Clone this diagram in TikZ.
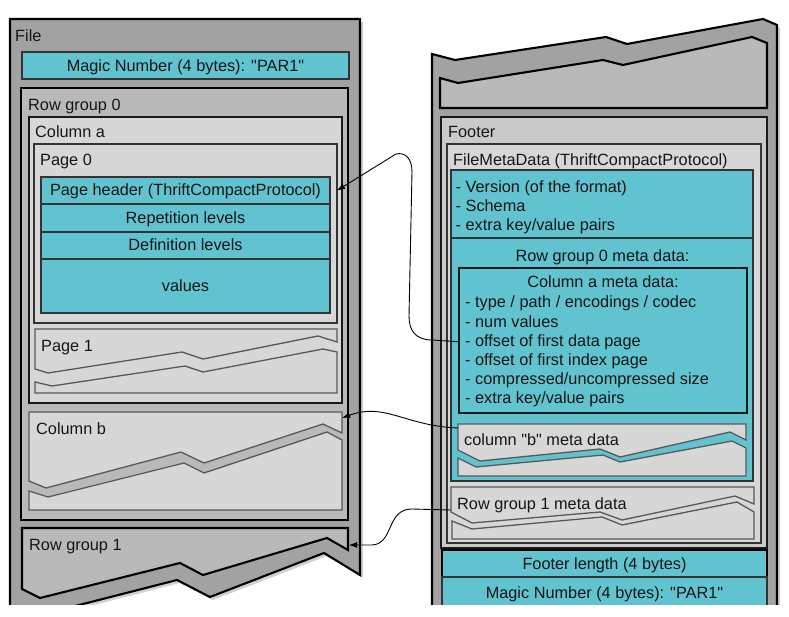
\documentclass[tikz,border=0pt]{standalone}
\usepackage{fontspec}
\setmainfont{Liberation Sans}
\usetikzlibrary{arrows.meta,shadows}
\definecolor{cy}{HTML}{62C3D0}
\definecolor{gA}{HTML}{A2A2A2}
\definecolor{gB}{HTML}{B9B9B9}
\definecolor{gC}{HTML}{D7D7D7}
\definecolor{gF}{HTML}{CACACA}
\definecolor{ink}{HTML}{161616}
\newcommand\qq{\textquotedbl}
\begin{document}
\begin{tikzpicture}[x=1pt,y=-1pt,
  bx/.style={rectangle, inner sep=0pt, outer sep=0pt, anchor=north west},
  heavy/.style={draw=black, line width=2.1pt, line join=miter},
  medium/.style={draw=black!90, line width=1.5pt},
  light/.style={draw=black!80, line width=1.2pt},
  soft/.style={draw=black!65, line width=1.3pt},
  shade/.style={drop shadow={shadow xshift=3pt, shadow yshift=-3pt, opacity=0.18, fill=black}},
  lbl/.style={anchor=base west, inner sep=0pt, text=ink, font=\fontsize{16.3}{19}\selectfont},
  clbl/.style={anchor=base, inner sep=0pt, text=ink, font=\fontsize{16.3}{19}\selectfont},
  link/.style={draw=black, line width=0.9pt, -{Latex[length=8pt,width=6pt]}},
]
\useasboundingbox (0,0) rectangle (789,617);
\begin{scope}
\clip (0,0) rectangle (789,604);
% ---------------- left column: File ----------------
\filldraw[fill=gA, heavy, shade] (10,19) -- (360,19) -- (360,575) -- (324,553) -- (210,597) -- (177,580) -- (40,615) -- (10,615) -- cycle;
\node[bx, fill=cy, light, minimum width=327pt, minimum height=27pt] (magicL) at (22,52) {};
\node[bx, fill=gB, heavy, minimum width=327pt, minimum height=432pt] (rg0) at (21,88) {};
\node[bx, fill=gC, medium, minimum width=313pt, minimum height=286pt] (colA) at (29,117) {};
\node[bx, fill=gC, light, minimum width=303pt, minimum height=179pt] (page0) at (34,144) {};
\node[bx, fill=cy, light, minimum width=289pt, minimum height=27pt] (hdr) at (41,177) {};
\node[bx, fill=cy, light, minimum width=289pt, minimum height=28pt] (rep) at (41,204) {};
\node[bx, fill=cy, light, minimum width=289pt, minimum height=27pt] (def) at (41,232) {};
\node[bx, fill=cy, light, minimum width=289pt, minimum height=54pt] (vals) at (41,259) {};
% Page 1 (broken)
\filldraw[fill=gC, soft] (35,329) -- (337,329) -- (337,342) -- (318,336) -- (203,359) -- (182,352) -- (48,373) -- (35,369) -- cycle;
\filldraw[fill=gC, soft] (35,382) -- (52,386) -- (185,366) -- (203,372) -- (323,349) -- (337,352) -- (337,393) -- (35,393) -- cycle;
% Column b (broken)
\filldraw[fill=gC, soft] (29,412) -- (342,412) -- (342,433) -- (323,424) -- (204,463) -- (181,452) -- (46,488) -- (29,481) -- cycle;
\filldraw[fill=gC, soft] (29,491) -- (48,497) -- (184,463) -- (204,473) -- (327,432) -- (342,440) -- (342,510) -- (29,510) -- cycle;
\coordinate (colB) at (342,418);
% Row group 1 (broken)
\filldraw[fill=gB, heavy] (22,528) -- (348,528) -- (348,550) -- (327,538) -- (203,575) -- (180,563) -- (40,598) -- (22,589) -- cycle;
\coordinate (rg1) at (349,545);
% ---------------- right column ----------------
\filldraw[fill=gA, heavy, shade] (432,54) -- (455,60) -- (606,37) -- (627,44) -- (763,19) -- (777,25) -- (777,640) -- (432,640) -- cycle;
\filldraw[fill=gB, heavy] (440,78) -- (458,83) -- (603,60) -- (623,65) -- (752,37) -- (767,43) -- (767,108) -- (440,108) -- cycle;
\node[bx, fill=gF, medium, minimum width=326pt, minimum height=431pt] (footer) at (441,117) {};
\node[bx, fill=gC, light, minimum width=314pt, minimum height=399pt] (fmd) at (447,144) {};
\node[bx, fill=cy, light, minimum width=302pt, minimum height=68pt] (cyTop) at (451,170) {};
\node[bx, fill=cy, light, minimum width=302pt, minimum height=243pt] (cyBot) at (451,238) {};
\node[bx, fill=cy, medium, minimum width=288pt, minimum height=145pt] (cameta) at (459,268) {};
% column b meta data (broken)
\filldraw[fill=gC, soft] (458,424) -- (746,424) -- (746,440) -- (730,432) -- (620,457) -- (600,449) -- (480,461) -- (458,450) -- cycle;
\filldraw[fill=gC, soft] (458,458) -- (476,467) -- (603,455) -- (620,462) -- (732,441) -- (746,448) -- (746,476) -- (458,476) -- cycle;
\coordinate (cbmeta) at (458,428);
% row group 1 meta data (broken)
\filldraw[fill=gC, soft] (451,487) -- (754,487) -- (754,504) -- (735,496) -- (622,520) -- (600,512) -- (472,523) -- (451,512) -- cycle;
\filldraw[fill=gC, soft] (452,521) -- (472,529) -- (602,517) -- (622,525) -- (737,502) -- (754,512) -- (754,539) -- (452,539) -- cycle;
\coordinate (rg1meta) at (451,510);
\node[bx, fill=cy, heavy, minimum width=325pt, minimum height=27pt] (flen) at (442,550) {};
\node[bx, fill=cy, light, minimum width=325pt, minimum height=63pt] (magicR) at (442,577) {};
% ---------------- labels ----------------
\node[lbl] (tFile) at (15,42) {File};
\node[clbl] (tMagicL) at (185.5,71.5) {Magic Number (4 bytes): \qq PAR1\qq};
\node[lbl] (tRg0) at (28,111) {Row group 0};
\node[lbl] (tColA) at (35,138) {Column a};
\node[lbl] (tPage0) at (40,166) {Page 0};
\node[clbl] (tHdr) at (185.5,196) {Page header (ThriftCompactProtocol)};
\node[clbl] (tRep) at (185.5,223.5) {Repetition levels};
\node[clbl] (tDef) at (185.5,251) {Definition levels};
\node[clbl] (tVals) at (185.5,291) {values};
\node[lbl] (tPage1) at (41,351) {Page 1};
\node[lbl] (tColB) at (36,434) {Column b};
\node[lbl] (tRg1) at (29,550) {Row group 1};
\node[lbl] (tFooter) at (448,138) {Footer};
\node[lbl] (tFmd) at (453,166) {FileMetaData (ThriftCompactProtocol)};
\node[lbl] (tV1) at (455.5,193) {- Version (of the format)};
\node[lbl] (tV2) at (455.5,212) {- Schema};
\node[lbl] (tV3) at (455.5,231) {- extra key/value pairs};
\node[clbl] (tRgm) at (602.5,262) {Row group 0 meta data:};
\node[clbl] (tCam) at (603,288) {Column a meta data:};
\node[lbl] (tM1) at (465,307.5) {- type / path / encodings /  codec};
\node[lbl] (tM2) at (465,327) {- num values};
\node[lbl] (tM3) at (465,346) {- offset of first data page};
\node[lbl] (tM4) at (465,365) {- offset of first index page};
\node[lbl] (tM5) at (465,384) {- compressed/uncompressed size};
\node[lbl] (tM6) at (465,403) {- extra key/value pairs};
\node[lbl] (tCbm) at (464,445) {column \qq b\qq\ meta data};
\node[lbl] (tRg1m) at (457,509) {Row group 1 meta data};
\node[clbl] (tFlen) at (604.5,569) {Footer length (4 bytes)};
\node[clbl] (tMagicR) at (604.5,598) {Magic Number (4 bytes): \qq PAR1\qq};
% ---------------- connectors ----------------
\draw[link] (cameta.west |- tM3.west) -- (432,340) .. controls (415,340) and (409,330) .. (409,316) -- (412,172) .. controls (412,158) and (405,152) .. (396,154) -- (page0.east |- hdr.center);
\draw[link] (cbmeta) .. controls (405,426) and (385,402) .. (colB);
\draw[link] (rg1meta) -- (412,509) .. controls (386,509) and (394,544) .. (372,545) -- (rg1);
\end{scope}
\end{tikzpicture}
\end{document}
